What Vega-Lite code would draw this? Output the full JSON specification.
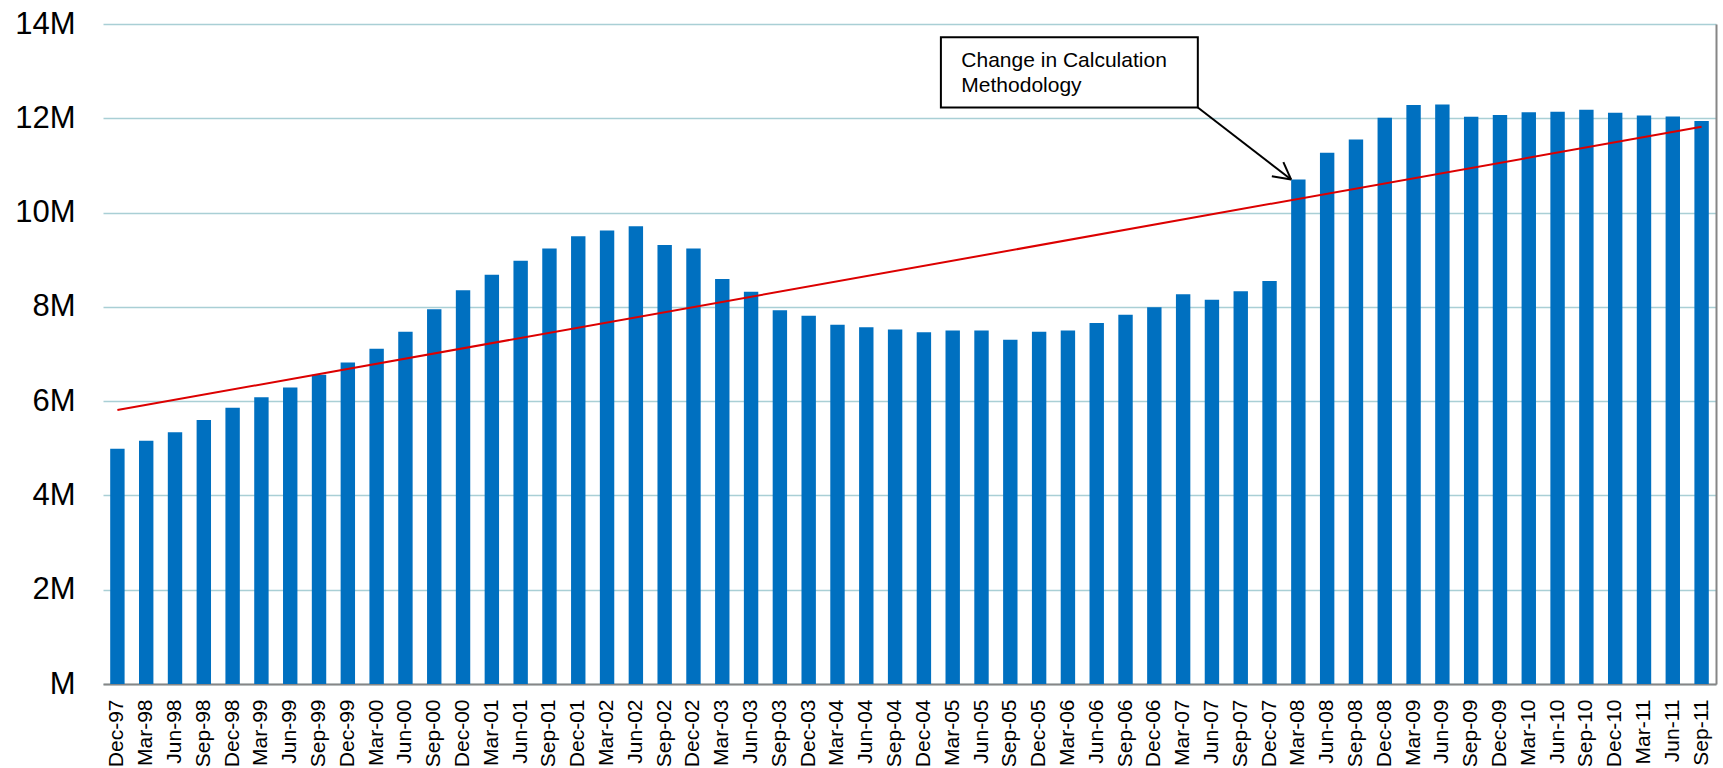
{
  "$schema": "https://vega.github.io/schema/vega-lite/v6.json",
  "autosize": "none",
  "width": 1613,
  "height": 660,
  "padding": {"left": 103, "top": 24, "right": 7, "bottom": 84},
  "background": "white",
  "config": {
    "view": {"stroke": null},
    "font": "Liberation Sans"
  },
  "datasets": {
    "bars": [
      {"q": "Dec-97", "v": 4.99}, {"q": "Mar-98", "v": 5.16}, {"q": "Jun-98", "v": 5.34}, {"q": "Sep-98", "v": 5.60},
      {"q": "Dec-98", "v": 5.86}, {"q": "Mar-99", "v": 6.08}, {"q": "Jun-99", "v": 6.29}, {"q": "Sep-99", "v": 6.56},
      {"q": "Dec-99", "v": 6.82}, {"q": "Mar-00", "v": 7.11}, {"q": "Jun-00", "v": 7.47}, {"q": "Sep-00", "v": 7.95},
      {"q": "Dec-00", "v": 8.35}, {"q": "Mar-01", "v": 8.68}, {"q": "Jun-01", "v": 8.98}, {"q": "Sep-01", "v": 9.24},
      {"q": "Dec-01", "v": 9.50}, {"q": "Mar-02", "v": 9.62}, {"q": "Jun-02", "v": 9.71}, {"q": "Sep-02", "v": 9.31},
      {"q": "Dec-02", "v": 9.24}, {"q": "Mar-03", "v": 8.59}, {"q": "Jun-03", "v": 8.32}, {"q": "Sep-03", "v": 7.93},
      {"q": "Dec-03", "v": 7.81}, {"q": "Mar-04", "v": 7.62}, {"q": "Jun-04", "v": 7.57}, {"q": "Sep-04", "v": 7.52},
      {"q": "Dec-04", "v": 7.46}, {"q": "Mar-05", "v": 7.50}, {"q": "Jun-05", "v": 7.50}, {"q": "Sep-05", "v": 7.30},
      {"q": "Dec-05", "v": 7.47}, {"q": "Mar-06", "v": 7.50}, {"q": "Jun-06", "v": 7.66}, {"q": "Sep-06", "v": 7.83},
      {"q": "Dec-06", "v": 7.99}, {"q": "Mar-07", "v": 8.27}, {"q": "Jun-07", "v": 8.15}, {"q": "Sep-07", "v": 8.33},
      {"q": "Dec-07", "v": 8.55}, {"q": "Mar-08", "v": 10.70}, {"q": "Jun-08", "v": 11.27}, {"q": "Sep-08", "v": 11.55},
      {"q": "Dec-08", "v": 12.01}, {"q": "Mar-09", "v": 12.28}, {"q": "Jun-09", "v": 12.29}, {"q": "Sep-09", "v": 12.03},
      {"q": "Dec-09", "v": 12.07}, {"q": "Mar-10", "v": 12.13}, {"q": "Jun-10", "v": 12.14}, {"q": "Sep-10", "v": 12.18},
      {"q": "Dec-10", "v": 12.12}, {"q": "Mar-11", "v": 12.06}, {"q": "Jun-11", "v": 12.04}, {"q": "Sep-11", "v": 11.94}
    ],
    "trend": [
      {"q": "Dec-97", "t": 5.81},
      {"q": "Sep-11", "t": 11.82}
    ],
    "box": [
      {"x": 28.59, "x2": 37.51, "y": 13.72, "y2": 12.23}
    ],
    "notes": [
      {"x": 29.30, "y": 13.09, "label": "Change in Calculation"},
      {"x": 29.30, "y": 12.56, "label": "Methodology"}
    ],
    "arrow": [
      {"seg": "shaft", "o": 1, "x": 37.51, "y": 12.23},
      {"seg": "shaft", "o": 2, "x": 40.75, "y": 10.70},
      {"seg": "h1", "o": 1, "x": 40.08, "y": 10.77},
      {"seg": "h1", "o": 2, "x": 40.75, "y": 10.70},
      {"seg": "h2", "o": 1, "x": 40.48, "y": 11.07},
      {"seg": "h2", "o": 2, "x": 40.75, "y": 10.70}
    ]
  },
  "resolve": {"scale": {"x": "independent"}, "axis": {"y": "independent", "x": "independent"}},
  "layer": [
    {
      "data": {"name": "bars"},
      "mark": {"type": "bar", "color": "#0070C0"},
      "encoding": {
        "x": {
          "field": "q", "type": "nominal", "sort": null,
          "scale": {"paddingInner": 0.5, "paddingOuter": 0.25},
          "axis": {
            "title": null, "labelAngle": -90, "labelFontSize": 21, "labelColor": "#000000",
            "labelPadding": 15, "ticks": false, "labelOverlap": false,
            "domainColor": "#868686", "domainWidth": 2, "labelFont": "Liberation Sans"
          }
        },
        "y": {
          "field": "v", "type": "quantitative",
          "scale": {"domain": [0, 14], "nice": false, "zero": true},
          "axis": {
            "title": null, "values": [0, 2, 4, 6, 8, 10, 12, 14],
            "labelExpr": "datum.value == 0 ? 'M' : datum.value + 'M'",
            "labelFontSize": 31, "labelColor": "#000000", "labelPadding": 28,
            "ticks": false, "domain": false, "grid": true,
            "gridColor": "#A9CFD5", "gridWidth": 1.5, "labelFont": "Liberation Sans"
          }
        }
      }
    },
    {
      "data": {"name": "trend"},
      "mark": {"type": "line", "color": "#DC0000", "strokeWidth": 2},
      "encoding": {
        "x": {
          "field": "q", "type": "nominal", "sort": null,
          "scale": {
            "domain": ["Dec-97","Mar-98","Jun-98","Sep-98","Dec-98","Mar-99","Jun-99","Sep-99","Dec-99","Mar-00","Jun-00","Sep-00","Dec-00","Mar-01","Jun-01","Sep-01","Dec-01","Mar-02","Jun-02","Sep-02","Dec-02","Mar-03","Jun-03","Sep-03","Dec-03","Mar-04","Jun-04","Sep-04","Dec-04","Mar-05","Jun-05","Sep-05","Dec-05","Mar-06","Jun-06","Sep-06","Dec-06","Mar-07","Jun-07","Sep-07","Dec-07","Mar-08","Jun-08","Sep-08","Dec-08","Mar-09","Jun-09","Sep-09","Dec-09","Mar-10","Jun-10","Sep-10","Dec-10","Mar-11","Jun-11","Sep-11"],
            "type": "point", "padding": 0.5
          },
          "axis": null
        },
        "y": {
          "field": "t", "type": "quantitative",
          "axis": {
            "orient": "right", "title": null, "labels": false, "ticks": false, "grid": false,
            "domain": true, "domainColor": "#868686", "domainWidth": 2
          }
        }
      }
    },
    {
      "data": {"name": "box"},
      "mark": {"type": "rect", "fill": "white", "stroke": "black", "strokeWidth": 2},
      "encoding": {
        "x": {"field": "x", "type": "quantitative", "scale": {"domain": [-0.5, 55.5], "nice": false, "zero": false}, "axis": null},
        "x2": {"field": "x2"},
        "y": {"field": "y", "type": "quantitative", "axis": null},
        "y2": {"field": "y2"}
      }
    },
    {
      "data": {"name": "notes"},
      "mark": {"type": "text", "align": "left", "baseline": "alphabetic", "fontSize": 21, "font": "Liberation Sans", "color": "black"},
      "encoding": {
        "x": {"field": "x", "type": "quantitative", "scale": {"domain": [-0.5, 55.5], "nice": false, "zero": false}, "axis": null},
        "y": {"field": "y", "type": "quantitative", "axis": null},
        "text": {"field": "label"}
      }
    },
    {
      "data": {"name": "arrow"},
      "mark": {"type": "line", "color": "black", "strokeWidth": 2},
      "encoding": {
        "x": {"field": "x", "type": "quantitative", "scale": {"domain": [-0.5, 55.5], "nice": false, "zero": false}, "axis": null},
        "y": {"field": "y", "type": "quantitative", "axis": null},
        "detail": {"field": "seg"},
        "order": {"field": "o"}
      }
    }
  ]
}
